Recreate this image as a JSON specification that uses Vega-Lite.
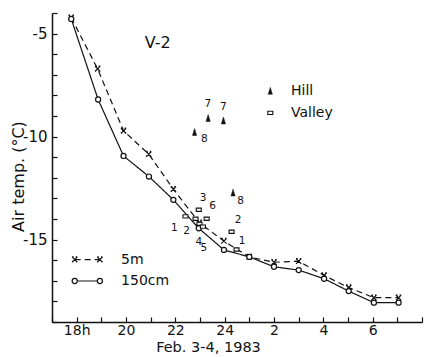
{
  "$schema": "https://vega.github.io/schema/vega-lite/v6.json",
  "width": 370,
  "height": 309,
  "autosize": {"type": "none"},
  "padding": {"left": 52, "top": 13, "right": 2, "bottom": 35},
  "background": "white",
  "config": {
    "view": {"stroke": null},
    "font": "DejaVu Sans",
    "axis": {
      "domainColor": "#111", "domainWidth": 1.5,
      "tickColor": "#111", "tickWidth": 1.2, "tickSize": -5,
      "labelFont": "DejaVu Sans", "labelFontSize": 14, "labelColor": "#111",
      "titleFont": "DejaVu Sans", "titleFontWeight": "normal", "titleColor": "#111",
      "grid": false, "labelOverlap": false, "labelFlush": false
    }
  },
  "datasets": {
    "temps": [
      {"series": "5m", "hour": 17.78, "temp": -4.23},
      {"series": "5m", "hour": 18.85, "temp": -6.71},
      {"series": "5m", "hour": 19.9, "temp": -9.72},
      {"series": "5m", "hour": 20.92, "temp": -10.85},
      {"series": "5m", "hour": 21.92, "temp": -12.55},
      {"series": "5m", "hour": 22.97, "temp": -14.18},
      {"series": "5m", "hour": 23.97, "temp": -15.07},
      {"series": "5m", "hour": 25.0, "temp": -15.84},
      {"series": "5m", "hour": 26.0, "temp": -16.1},
      {"series": "5m", "hour": 27.0, "temp": -16.05},
      {"series": "5m", "hour": 28.03, "temp": -16.74},
      {"series": "5m", "hour": 29.03, "temp": -17.33},
      {"series": "5m", "hour": 30.05, "temp": -17.82},
      {"series": "5m", "hour": 31.05, "temp": -17.82},
      {"series": "150cm", "hour": 17.78, "temp": -4.29},
      {"series": "150cm", "hour": 18.87, "temp": -8.2},
      {"series": "150cm", "hour": 19.9, "temp": -10.94},
      {"series": "150cm", "hour": 20.93, "temp": -11.94},
      {"series": "150cm", "hour": 21.92, "temp": -13.07},
      {"series": "150cm", "hour": 22.95, "temp": -14.45},
      {"series": "150cm", "hour": 23.97, "temp": -15.5},
      {"series": "150cm", "hour": 25.0, "temp": -15.84},
      {"series": "150cm", "hour": 26.0, "temp": -16.32},
      {"series": "150cm", "hour": 27.0, "temp": -16.48},
      {"series": "150cm", "hour": 28.03, "temp": -16.9},
      {"series": "150cm", "hour": 29.03, "temp": -17.5},
      {"series": "150cm", "hour": 30.05, "temp": -18.06},
      {"series": "150cm", "hour": 31.05, "temp": -18.06}
    ],
    "sites": [
      {"type": "Hill", "site": "7", "hour": 23.33, "temp": -9.12},
      {"type": "Hill", "site": "7", "hour": 23.95, "temp": -9.24},
      {"type": "Hill", "site": "8", "hour": 22.78, "temp": -9.8},
      {"type": "Hill", "site": "8", "hour": 24.34, "temp": -12.74},
      {"type": "Valley", "site": "1", "hour": 22.41, "temp": -13.87},
      {"type": "Valley", "site": "2", "hour": 22.82, "temp": -13.99},
      {"type": "Valley", "site": "3", "hour": 22.95, "temp": -13.55},
      {"type": "Valley", "site": "6", "hour": 23.27, "temp": -13.99},
      {"type": "Valley", "site": "4", "hour": 22.98, "temp": -14.23},
      {"type": "Valley", "site": "5", "hour": 23.12, "temp": -14.37},
      {"type": "Valley", "site": "2", "hour": 24.28, "temp": -14.62},
      {"type": "Valley", "site": "1", "hour": 24.48, "temp": -15.48}
    ],
    "siteLabels": [
      {"label": "7", "hour": 23.32, "temp": -8.43},
      {"label": "7", "hour": 23.95, "temp": -8.56},
      {"label": "8", "hour": 23.18, "temp": -10.14},
      {"label": "8", "hour": 24.65, "temp": -13.12},
      {"label": "1", "hour": 21.96, "temp": -14.42},
      {"label": "2", "hour": 22.46, "temp": -14.57},
      {"label": "3", "hour": 23.13, "temp": -12.99},
      {"label": "6", "hour": 23.51, "temp": -13.37},
      {"label": "4", "hour": 22.95, "temp": -15.12},
      {"label": "5", "hour": 23.16, "temp": -15.39},
      {"label": "2", "hour": 24.54, "temp": -14.03},
      {"label": "1", "hour": 24.71, "temp": -15.08}
    ],
    "keyLines": [
      {"series": "5m", "hour": 17.92, "temp": -15.97},
      {"series": "5m", "hour": 18.94, "temp": -15.97},
      {"series": "150cm", "hour": 17.92, "temp": -17.01},
      {"series": "150cm", "hour": 18.94, "temp": -17.01}
    ],
    "keyText": [
      {"label": "5m", "hour": 19.8, "temp": -15.97},
      {"label": "150cm", "hour": 19.8, "temp": -17.01},
      {"label": "Hill", "hour": 26.69, "temp": -7.8},
      {"label": "Valley", "hour": 26.69, "temp": -8.85}
    ],
    "keySymbols": [
      {"type": "Hill", "hour": 25.85, "temp": -7.8},
      {"type": "Valley", "hour": 25.85, "temp": -8.85}
    ],
    "panel": [
      {"label": "V-2", "hour": 21.29, "temp": -5.48}
    ]
  },
  "encoding": {
    "x": {
      "field": "hour", "type": "quantitative",
      "scale": {"domain": [17, 32], "nice": false, "zero": false},
      "axis": {
        "values": [17, 18, 19, 20, 21, 22, 23, 24, 25, 26, 27, 28, 29, 30, 31, 32],
        "labelExpr": "(datum.value % 2 == 0 && datum.value >= 18 && datum.value <= 30) ? (datum.value == 18 ? '18h' : (datum.value > 24 ? '' + (datum.value - 24) : '' + datum.value)) : ''",
        "labelPadding": 6,
        "title": "Feb. 3-4, 1983",
        "titleFontSize": 14.5,
        "titleX": 156, "titleY": 25,
        "titleAlign": "center", "titleBaseline": "middle"
      }
    },
    "y": {
      "field": "temp", "type": "quantitative",
      "scale": {"domain": [-19, -4], "nice": false, "zero": false},
      "axis": {
        "values": [-19, -18, -17, -16, -15, -14, -13, -12, -11, -10, -9, -8, -7, -6, -5, -4],
        "labelExpr": "datum.value % 5 == 0 ? '-' + abs(datum.value) : ''",
        "labelPadding": 10,
        "labelFontSize": 15,
        "title": "Air temp. (°C)",
        "titleFontSize": 16,
        "titleAngle": 270,
        "titleX": -34, "titleY": 163,
        "titleAlign": "center", "titleBaseline": "middle"
      }
    }
  },
  "layer": [
    {
      "data": {"name": "temps"},
      "mark": {"type": "line", "stroke": "#111", "strokeWidth": 1.2},
      "encoding": {
        "strokeDash": {"field": "series", "type": "nominal", "scale": {"domain": ["5m", "150cm"], "range": [[6, 4], [1, 0]]}, "legend": null},
        "detail": {"field": "series"},
        "order": {"field": "hour", "type": "quantitative"}
      }
    },
    {
      "data": {"name": "keyLines"},
      "mark": {"type": "line", "stroke": "#111", "strokeWidth": 1.2},
      "encoding": {
        "strokeDash": {"field": "series", "type": "nominal", "scale": {"domain": ["5m", "150cm"], "range": [[6, 4], [1, 0]]}, "legend": null},
        "detail": {"field": "series"}
      }
    },
    {
      "data": {"name": "temps"},
      "transform": [{"filter": "datum.series == '5m'"}],
      "mark": {"type": "point", "shape": "M-1,-1L1,1M-1,1L1,-1M-1,-1L-0.4,-1M0.4,-1L1,-1", "size": 28, "filled": false, "stroke": "#111", "strokeWidth": 1.2, "opacity": 1}
    },
    {
      "data": {"name": "keyLines"},
      "transform": [{"filter": "datum.series == '5m'"}],
      "mark": {"type": "point", "shape": "M-1,-1L1,1M-1,1L1,-1M-1,-1L-0.4,-1M0.4,-1L1,-1", "size": 28, "filled": false, "stroke": "#111", "strokeWidth": 1.2, "opacity": 1}
    },
    {
      "data": {"name": "temps"},
      "transform": [{"filter": "datum.series == '150cm'"}],
      "mark": {"type": "point", "shape": "circle", "size": 26, "filled": true, "fill": "white", "stroke": "#111", "strokeWidth": 1.2, "opacity": 1}
    },
    {
      "data": {"name": "keyLines"},
      "transform": [{"filter": "datum.series == '150cm'"}],
      "mark": {"type": "point", "shape": "circle", "size": 26, "filled": true, "fill": "white", "stroke": "#111", "strokeWidth": 1.2, "opacity": 1}
    },
    {
      "data": {"name": "sites"},
      "transform": [{"filter": "datum.type == 'Valley'"}],
      "mark": {"type": "point", "shape": "M-1,-0.65L1,-0.65L1,0.65L-1,0.65Z", "size": 25, "filled": true, "fill": "white", "stroke": "#111", "strokeWidth": 1.1, "opacity": 1}
    },
    {
      "data": {"name": "sites"},
      "transform": [{"filter": "datum.type == 'Hill'"}],
      "mark": {"type": "point", "shape": "M0,-1.3L0.7,1L-0.7,1Z", "size": 36, "filled": true, "fill": "#111", "stroke": "#111", "strokeWidth": 0.5, "opacity": 1}
    },
    {
      "data": {"name": "keySymbols"},
      "transform": [{"filter": "datum.type == 'Valley'"}],
      "mark": {"type": "point", "shape": "M-1,-0.65L1,-0.65L1,0.65L-1,0.65Z", "size": 25, "filled": true, "fill": "white", "stroke": "#111", "strokeWidth": 1.1, "opacity": 1}
    },
    {
      "data": {"name": "keySymbols"},
      "transform": [{"filter": "datum.type == 'Hill'"}],
      "mark": {"type": "point", "shape": "M0,-1.3L0.7,1L-0.7,1Z", "size": 36, "filled": true, "fill": "#111", "stroke": "#111", "strokeWidth": 0.5, "opacity": 1}
    },
    {
      "data": {"name": "siteLabels"},
      "mark": {"type": "text", "font": "DejaVu Sans", "fontSize": 10.5, "fill": "#111", "align": "center", "baseline": "middle"},
      "encoding": {"text": {"field": "label"}}
    },
    {
      "data": {"name": "keyText"},
      "mark": {"type": "text", "font": "DejaVu Sans", "fontSize": 14, "fill": "#111", "align": "left", "baseline": "middle"},
      "encoding": {"text": {"field": "label"}}
    },
    {
      "data": {"name": "panel"},
      "mark": {"type": "text", "font": "DejaVu Sans", "fontSize": 16, "fill": "#111", "align": "center", "baseline": "middle"},
      "encoding": {"text": {"field": "label"}}
    }
  ]
}
